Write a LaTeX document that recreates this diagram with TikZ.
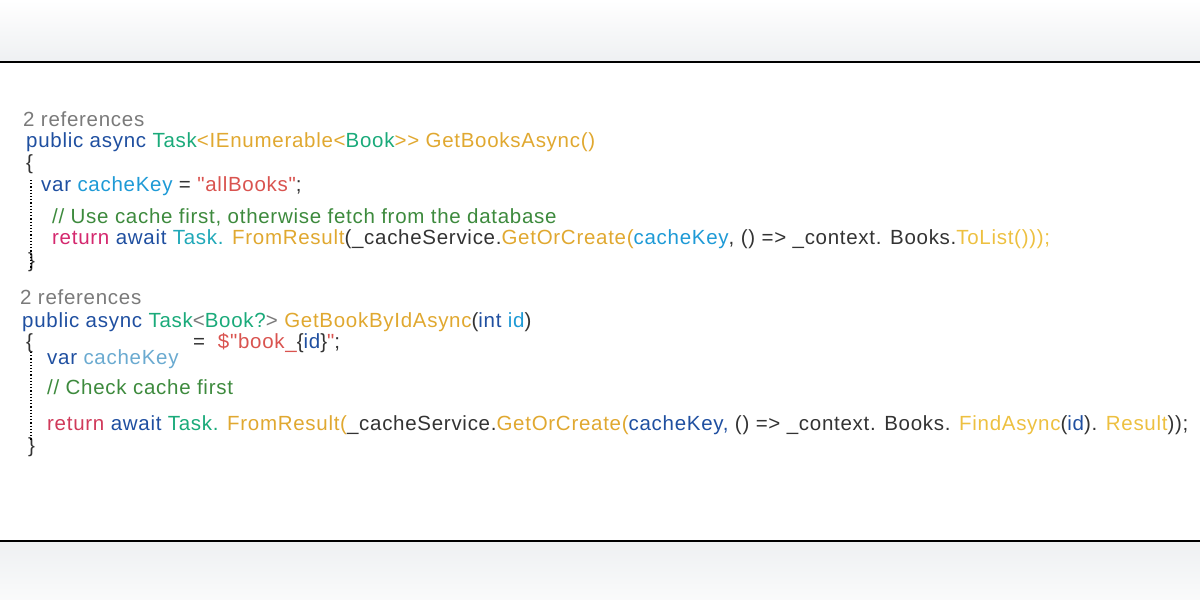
\documentclass[tikz,border=0pt]{standalone}
\usepackage{fontspec}
\setmainfont{Liberation Sans}[Ligatures=TeXOff,LetterSpace=3.5]
\definecolor{kw}{HTML}{1F4FA0}
\definecolor{ty}{HTML}{1AAA7A}
\definecolor{fn}{HTML}{E0A830}
\definecolor{fnl}{HTML}{EDC040}
\definecolor{cy}{HTML}{1E9AD6}
\definecolor{tl}{HTML}{20A8B8}
\definecolor{st}{HTML}{D9534F}
\definecolor{cm}{HTML}{3D8A3D}
\definecolor{rt}{HTML}{D4286E}
\definecolor{rt2}{HTML}{D03A5A}
\definecolor{gr}{HTML}{7A7A7A}
\definecolor{tx}{HTML}{333333}
\definecolor{lb}{HTML}{6AAAD0}
\definecolor{band}{HTML}{EEF0F2}
\begin{document}
\begin{tikzpicture}[x=1pt,y=-1pt,
  code/.style={anchor=west,inner sep=0pt,font=\fontsize{20.5}{24}\selectfont,text=tx},
  guide/.style={dotted,line width=1.2pt,black}]
\useasboundingbox (0,0) rectangle (1200,600);
\shade[top color=white,bottom color=band] (0,0) rectangle (1200,62);
\shade[top color=band,bottom color=white!70!band] (0,541) rectangle (1200,600);
\draw[line width=1.2pt] (0,62) -- (1200,62);
\draw[line width=1.2pt] (0,541) -- (1200,541);
% block 1
\node[code,text=gr] (r1) at (23,119) {2 references};
\node[code] (p1) at (26,142) {\color{kw}public async \color{ty}Task\color{fn}<IEnumerable<\color{ty}Book\color{fn}>> GetBooksAsync()};
\node[code] (o1) at (26,164) {\{};
\node[code] (v1) at (41,186) {\color{kw}var \color{cy}cacheKey \color{tx}= \color{st}"allBooks"\color{tx};};
\node[code,text=cm] (c1) at (52,217) {// Use cache first, otherwise fetch from the database};
\node[code] (t1) at (52,239) {\color{rt}return \color{kw}await \color{tl}Task. \color{fn}FromResult\color{tx}(\_cacheService.\color{fn}GetOrCreate(\color{cy}cacheKey\color{tx}, () => \_context. Books.\color{fnl}ToList()));};
\node[code] (e1) at (28,262) {\}};
\coordinate (g1a) at (31,180);
\coordinate (g1b) at (31,268);
\draw[guide] (g1a) -- (g1b);
% block 2
\node[code,text=gr] (r2) at (20,297) {2 references};
\node[code] (p2) at (22,322) {\color{kw}public async \color{ty}Task\color{gr}<\color{ty}Book?\color{gr}> \color{fn}GetBookByIdAsync\color{tx}(\color{kw}int \color{cy}id\color{tx})};
\node[code] (o2) at (26,343) {\{};
\node[code] (q2) at (193,343) {= \ \color{st}\$"book\_\color{tx}\{\color{kw}id\color{tx}\}\color{st}"\color{tx};};
\node[code] (v2) at (47,359) {\color{kw}var \color{lb}cacheKey};
\node[code,text=cm] (c2) at (47,387) {// Check cache first};
\node[code] (t2) at (47,425) {\color{rt2}return \color{kw}await \color{ty}Task. \color{fn}FromResult(\color{tx}\_cacheService.\color{fn}GetOrCreate(\color{kw}cacheKey, \color{tx}() => \_context. Books. \color{fnl}FindAsync\color{tx}(\color{kw}id\color{tx}). \color{fnl}Result\color{tx}));};
\node[code] (e2) at (28,447) {\}};
\coordinate (g2a) at (31,352);
\coordinate (g2b) at (31,440);
\draw[guide] (g2a) -- (g2b);
\end{tikzpicture}
\end{document}
